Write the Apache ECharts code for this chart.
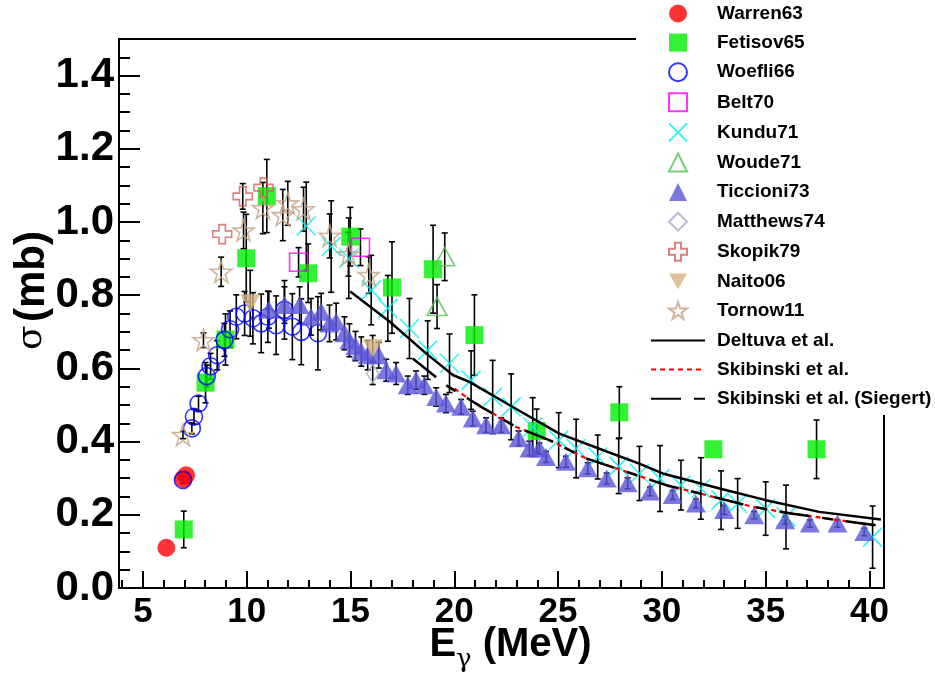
<!DOCTYPE html>
<html>
<head>
<meta charset="utf-8">
<script src="https://cdn.jsdelivr.net/npm/echarts@6/dist/echarts.min.js"></script>
<style>html,body{margin:0;padding:0;background:#fff}#c{width:935px;height:681px}</style>
</head>
<body>
<div id="c"></div>
<script>
// ---- tick labels ----
const xTicks = [5, 10, 15, 20, 25, 30, 35, 40];
const xMinorTicks = [4,5,6,7,8,9,10,11,12,13,14,15,16,17,18,19,20,21,22,23,24,25,26,27,28,29,30,31,32,33,34,35,36,37,38,39,40];
const yTicks = [0, 0.2, 0.4, 0.6, 0.8, 1.0, 1.2, 1.4];
const yMinorTicks = [0.05,0.1,0.15,0.25,0.3,0.35,0.45,0.5,0.55,0.65,0.7,0.75,0.85,0.9,0.95,1.05,1.1,1.15,1.25,1.3,1.35,1.45];

// ---- data sets (E in MeV, sigma in mb, symmetric error) ----
const warrenE = [6.13, 6.95, 7.08];
const warrenS = [0.110, 0.298, 0.308];
const warrenErr = [0, 0, 0];

const fetisovE = [6.97, 8.02, 8.98, 9.98, 10.97, 12.96, 14.99, 17.0, 18.98, 20.97, 23.97, 27.95, 32.48, 37.45];
const fetisovS = [0.160, 0.561, 0.679, 0.901, 1.071, 0.860, 0.960, 0.821, 0.871, 0.691, 0.429, 0.480, 0.379, 0.379];
const fetisovErr = [0.05, 0.055, 0.07, 0.12, 0.10, 0.08, 0.08, 0.125, 0.12, 0.11, 0.06, 0.07, 0, 0.08];

const woefliE = [6.93, 7.36, 7.46, 7.68, 8.08, 8.26, 8.58, 8.93, 9.2, 9.5, 9.9, 10.3, 10.7, 11.02, 11.42, 11.82, 12.2, 12.63, 13.43];
const woefliS = [0.295, 0.436, 0.468, 0.504, 0.579, 0.606, 0.636, 0.678, 0.707, 0.741, 0.75, 0.737, 0.723, 0.741, 0.718, 0.76, 0.714, 0.70, 0.696];
const woefliErr = [0.01, 0.015, 0.02, 0.02, 0.03, 0.035, 0.04, 0.045, 0.05, 0.06, 0.06, 0.07, 0.08, 0.07, 0.08, 0.08, 0.09, 0.09, 0.1];

const beltE = [12.5, 15.48];
const beltS = [0.89, 0.931];
const beltErr = [0.04, 0.05];

const kunduE = [12.87, 14.07, 14.92, 16.0, 16.8, 17.84, 18.72, 19.77, 20.81, 21.85, 22.74, 23.78, 25.03, 25.87, 26.91, 27.92, 28.92, 29.91, 30.92, 31.88, 32.85, 33.65, 35.0, 35.98, 40.15];
const kunduS = [0.989, 0.933, 0.901, 0.814, 0.764, 0.709, 0.650, 0.614, 0.568, 0.522, 0.495, 0.440, 0.404, 0.381, 0.358, 0.333, 0.313, 0.299, 0.281, 0.272, 0.240, 0.231, 0.217, 0.194, 0.139];
const kunduErr = [0.12, 0.125, 0.11, 0.095, 0.09, 0.082, 0.08, 0.08, 0.08, 0.1, 0.09, 0.08, 0.075, 0.08, 0.06, 0.075, 0.074, 0.09, 0.068, 0.084, 0.08, 0.068, 0.073, 0.087, 0.085];

const woudeE = [19.17, 19.54];
const woudeS = [0.769, 0.905];
const woudeErr = [0.06, 0.065];

const ticcioniE = [11.07, 11.82, 12.55, 13.1, 13.59, 13.99, 14.31, 14.71, 14.95, 15.24, 15.52, 15.83, 16.36, 16.72, 17.2, 17.76, 18.16, 18.56, 19.13, 19.6, 20.33, 20.89, 21.53, 22.26, 23.1, 23.62, 24.1, 24.42, 25.38, 26.43, 27.34, 28.35, 29.43, 30.52, 31.64, 33.0, 34.45, 35.94, 37.13, 38.46, 39.75];
const ticcioniS = [0.76, 0.773, 0.773, 0.741, 0.755, 0.723, 0.728, 0.696, 0.677, 0.661, 0.646, 0.636, 0.636, 0.595, 0.586, 0.554, 0.568, 0.554, 0.522, 0.504, 0.495, 0.463, 0.445, 0.445, 0.409, 0.381, 0.381, 0.358, 0.345, 0.327, 0.299, 0.286, 0.264, 0.254, 0.231, 0.213, 0.199, 0.185, 0.176, 0.176, 0.153];
const ticcioniErr = [0.05, 0.05, 0.05, 0.05, 0.05, 0.05, 0.05, 0.045, 0.045, 0.04, 0.04, 0.04, 0.035, 0.03, 0.03, 0.025, 0.025, 0.025, 0.025, 0.025, 0.02, 0.02, 0.02, 0.02, 0.02, 0.02, 0.015, 0.015, 0.015, 0.015, 0.015, 0.015, 0.012, 0.012, 0.012, 0.012, 0.01, 0.01, 0.01, 0.01, 0.01];

const matthewsE = [16.07];
const matthewsS = [0.586];
const matthewsErr = [0.03];

const skopikE = [8.82, 9.81, 10.81];
const skopikS = [0.967, 1.07, 1.094];
const skopikErr = [0, 0.035, 0];

const naitoE = [10.17, 16.07];
const naitoS = [0.778, 0.655];
const naitoErr = [0.09, 0.035];

const tornowE = [6.93, 7.92, 8.77, 9.85, 10.78, 11.74, 11.98, 12.74, 14.0, 14.9, 15.88];
const tornowS = [0.418, 0.677, 0.864, 0.977, 1.038, 1.019, 1.051, 1.035, 0.962, 0.912, 0.855];
const tornowErr = [0.01, 0.02, 0.04, 0.05, 0.07, 0.07, 0.06, 0.06, 0.06, 0.06, 0.05];

// ---- theory curves ----
const deltuvaE = [14.99, 16.88, 18.64, 19.93, 20.73, 22.65, 25.06, 27.15, 28.91, 30.04, 32.78, 35.01, 37.58, 40.55];
const deltuvaS = [0.81, 0.728, 0.641, 0.582, 0.563, 0.50, 0.422, 0.377, 0.34, 0.313, 0.272, 0.24, 0.208, 0.187];

const skibE = [20.0, 20.9, 22.98, 24.58, 26.35, 28.43, 30.2, 32.13, 34.37, 36.3, 38.54, 40.39];
const skibS = [0.545, 0.509, 0.44, 0.404, 0.354, 0.315, 0.281, 0.254, 0.222, 0.203, 0.185, 0.171];

const siegertE = [18.0, 19.25, 19.6, 20.9, 21.29, 22.98, 24.58, 26.35, 28.43, 30.2, 32.13, 34.37, 36.3, 38.54, 40.39];
const siegertS = [0.627, 0.57, 0.554, 0.509, 0.495, 0.44, 0.404, 0.354, 0.315, 0.281, 0.254, 0.222, 0.203, 0.185, 0.171];

// ---- build ----
const zip = (a, b) => a.map((v, i) => [v, b[i]]);
const errData = (E, S, D) => E.map((e, i) => [e, S[i] - D[i], S[i] + D[i]]).filter((r, i) => D[i] > 0);

function errRender(params, api) {
  const x = api.value(0), lo = api.value(1), hi = api.value(2);
  const p1 = api.coord([x, hi]), p2 = api.coord([x, lo]);
  const c = 3;
  const st = { stroke: '#000', lineWidth: 1.6 };
  return { type: 'group', children: [
    { type: 'line', shape: { x1: p1[0], y1: p1[1], x2: p2[0], y2: p2[1] }, style: st },
    { type: 'line', shape: { x1: p1[0] - c, y1: p1[1], x2: p1[0] + c, y2: p1[1] }, style: st },
    { type: 'line', shape: { x1: p2[0] - c, y1: p2[1], x2: p2[0] + c, y2: p2[1] }, style: st }
  ]};
}

const STAR = 'path://M50,0L61.17,34.63L97.55,34.55L68.07,55.87L79.39,90.45L50,69L20.61,90.45L31.93,55.87L2.45,34.55L38.83,34.63Z';
const PLUS = 'path://M33,0L67,0L67,33L100,33L100,67L67,67L67,100L33,100L33,67L0,67L0,33L33,33Z';
const XMARK = 'path://M0,0L100,100M100,0L0,100';
const INVTRI = 'path://M0,0L100,0L50,86.6Z';
const CLEAR = 'rgba(0,0,0,0)';

const sets = [
  { name: 'Warren63', E: warrenE, S: warrenS, D: warrenErr, symbol: 'circle', size: 18, style: { color: '#ff0000' } },
  { name: 'Fetisov65', E: fetisovE, S: fetisovS, D: fetisovErr, symbol: 'rect', size: 18, style: { color: '#00ee00' } },
  { name: 'Woefli66', E: woefliE, S: woefliS, D: woefliErr, symbol: 'circle', size: 17, style: { color: CLEAR, borderColor: '#0000ff', borderWidth: 1.6 } },
  { name: 'Belt70', E: beltE, S: beltS, D: beltErr, symbol: 'rect', size: 18, style: { color: CLEAR, borderColor: '#ff00ff', borderWidth: 1.6 } },
  { name: 'Kundu71', E: kunduE, S: kunduS, D: kunduErr, symbol: XMARK, size: 19, style: { color: CLEAR, borderColor: '#00f0f0', borderWidth: 1.6 } },
  { name: 'Woude71', E: woudeE, S: woudeS, D: woudeErr, symbol: 'triangle', size: [20, 18], style: { color: CLEAR, borderColor: '#55c155', borderWidth: 1.6 } },
  { name: 'Ticcioni73', E: ticcioniE, S: ticcioniS, D: ticcioniErr, symbol: 'triangle', size: [20, 18], style: { color: '#5a55d9' } },
  { name: 'Matthews74', E: matthewsE, S: matthewsS, D: matthewsErr, symbol: 'diamond', size: [12, 18], style: { color: CLEAR, borderColor: '#a8a8c8', borderWidth: 1.6 } },
  { name: 'Skopik79', E: skopikE, S: skopikS, D: skopikErr, symbol: PLUS, size: 19, style: { color: CLEAR, borderColor: '#d06060', borderWidth: 1.6 } },
  { name: 'Naito06', E: naitoE, S: naitoS, D: naitoErr, symbol: INVTRI, size: [20, 18], style: { color: '#d5b07f' } },
  { name: 'Tornow11', E: tornowE, S: tornowS, D: tornowErr, symbol: STAR, size: 21, style: { color: CLEAR, borderColor: '#c2a282', borderWidth: 1.6 } }
];

const series = [];
sets.forEach(s => {
  const ed = errData(s.E, s.S, s.D);
  if (ed.length) {
    series.push({ name: s.name + ' err', type: 'custom', renderItem: errRender, data: ed, encode: { x: 0, y: [1, 2] }, silent: true, clip: true });
  }
  series.push({ name: s.name, type: 'scatter', symbol: s.symbol, symbolSize: s.size, data: zip(s.E, s.S), itemStyle: s.style, silent: true });
});
const lineNames = ['Deltuva et al.', 'Skibinski et al.', 'Skibinski et al. (Siegert)'];
series.push({ name: lineNames[0], type: 'line', symbol: 'none', data: zip(deltuvaE, deltuvaS), lineStyle: { color: '#000', width: 2.5 }, itemStyle: { color: '#000' } });
series.push({ name: lineNames[1], type: 'line', symbol: 'none', data: zip(skibE, skibS), lineStyle: { color: '#ff0000', width: 2.2, type: [5, 4] }, itemStyle: { color: '#ff0000' } });
series.push({ name: lineNames[2], type: 'line', symbol: 'none', data: zip(siegertE, siegertS), lineStyle: { color: '#000', width: 2.5, type: [30, 13, 11, 13] }, itemStyle: { color: '#000' } });

const chart = echarts.init(document.getElementById('c'), null, { renderer: 'canvas' });
const axisFont = 'Liberation Sans, Arial, Helvetica, sans-serif';
const legendText = { fontFamily: axisFont, fontWeight: 'bold', fontSize: 19, color: '#000', lineHeight: 18 };
chart.setOption({
  animation: false,
  backgroundColor: '#fff',
  grid: { left: 119, right: 51, top: 39, bottom: 93, show: true, borderColor: '#000', borderWidth: 2, backgroundColor: 'transparent', outerBoundsMode: 'none', containLabel: false },
  graphic: [{ type: 'rect', left: 636, top: 0, shape: { width: 299, height: 415 }, style: { fill: '#fff' }, z: 3, silent: true }],
  legend: [
    { data: sets.map(s => s.name), orient: 'vertical', left: 668, top: 4, padding: 0,
      itemWidth: 18, itemHeight: 18, itemGap: 10.1, selectedMode: false,
      textStyle: Object.assign({ padding: [0, 0, 0, 25] }, legendText) },
    { data: lineNames.map(n => ({ name: n, itemStyle: { opacity: 0 } })), orient: 'vertical', left: 650, top: 331, padding: 0,
      itemWidth: 54, itemHeight: 18, itemGap: 10.1, selectedMode: false,
      textStyle: Object.assign({ padding: [0, 0, 0, 7] }, legendText) }
  ],
  xAxis: [
    { type: 'value', min: 3.85, max: 40.7,
      name: '{e|E}{g|γ}{m| (MeV)}', nameLocation: 'middle', nameGap: 37, nameMoveOverlap: false,
      nameTextStyle: { padding: [0, 0, 0, 18], rich: {
        e: { fontFamily: axisFont, fontWeight: 'bold', fontSize: 40, color: '#000', lineHeight: 40, verticalAlign: 'top' },
        g: { fontFamily: 'DejaVu Serif, serif', fontSize: 26, color: '#000', lineHeight: 26, padding: [22, 0, 0, 0], verticalAlign: 'top' },
        m: { fontFamily: axisFont, fontWeight: 'bold', fontSize: 40, color: '#000', lineHeight: 40, verticalAlign: 'top' }
      } },
      axisLine: { onZero: false, lineStyle: { color: '#000', width: 2 } },
      axisTick: { inside: true, length: 17, customValues: xTicks, lineStyle: { color: '#000', width: 2 } },
      axisLabel: { customValues: xTicks, fontFamily: axisFont, fontWeight: 'bold', fontSize: 35, color: '#000', margin: 7 },
      splitLine: { show: false } },
    { type: 'value', min: 3.85, max: 40.7, position: 'bottom',
      axisLine: { show: false },
      axisTick: { inside: true, length: 8, customValues: xMinorTicks, lineStyle: { color: '#000', width: 2 } },
      axisLabel: { show: false }, splitLine: { show: false } }
  ],
  yAxis: [
    { type: 'value', min: 0, max: 1.5,
      name: '{s|σ} {b|(mb)}', nameLocation: 'middle', nameGap: 66, nameRotate: 90, nameMoveOverlap: false,
      nameTextStyle: { padding: [0, 0, 0, 46], rich: {
        s: { fontFamily: 'DejaVu Serif, serif', fontSize: 36, color: '#000' },
        b: { fontFamily: axisFont, fontWeight: 'bold', fontSize: 42, color: '#000' }
      } },
      axisLine: { onZero: false, lineStyle: { color: '#000', width: 2 } },
      axisTick: { inside: true, length: 21, customValues: yTicks, lineStyle: { color: '#000', width: 2 } },
      axisLabel: { customValues: yTicks, formatter: v => v.toFixed(1), fontFamily: axisFont, fontWeight: 'bold', fontSize: 42, color: '#000', margin: 5 },
      splitLine: { show: false } },
    { type: 'value', min: 0, max: 1.5, position: 'left',
      axisLine: { show: false },
      axisTick: { inside: true, length: 11, customValues: yMinorTicks, lineStyle: { color: '#000', width: 2 } },
      axisLabel: { show: false }, splitLine: { show: false } }
  ],
  series: series
});
</script>
</body>
</html>
